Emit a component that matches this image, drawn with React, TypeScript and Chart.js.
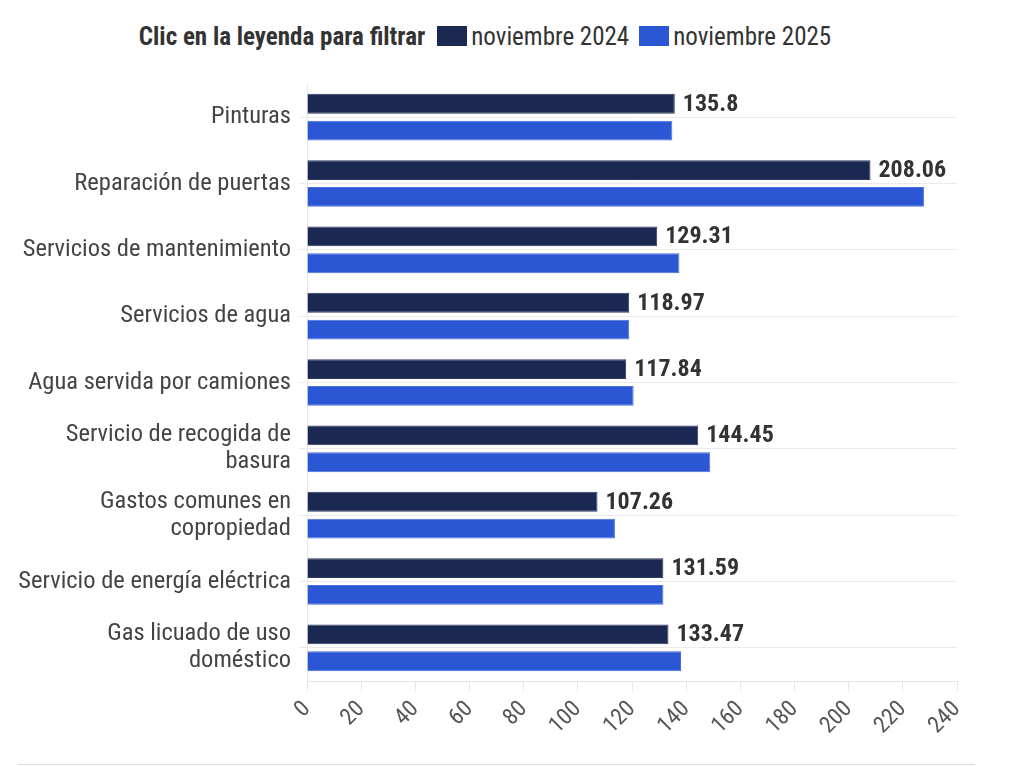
import React, { useEffect, useRef, useState } from "react";
import { Chart, registerables } from "chart.js";

Chart.register(...registerables);

const categories: (string | string[])[] = [
  "Pinturas",
  "Reparación de puertas",
  "Servicios de mantenimiento",
  "Servicios de agua",
  "Agua servida por camiones",
  ["Servicio de recogida de", "basura"],
  ["Gastos comunes en", "copropiedad"],
  "Servicio de energía eléctrica",
  ["Gas licuado de uso", "doméstico"],
];

const seriesNames = ["noviembre 2024", "noviembre 2025"];
const values2024 = [135.8, 208.06, 129.31, 118.97, 117.84, 144.45, 107.26, 131.59, 133.47];
const values2025 = [134.9, 227.8, 137.5, 119.0, 120.6, 148.9, 113.7, 131.6, 138.1];
const seriesColors = ["#1b2852", "#2b56d4"];
const xMin = 0;
const xMax = 240;
const xStep = 20;
const legendTitle = "Clic en la leyenda para filtrar";

const FONT = "'Roboto Condensed', Roboto, 'Noto Sans', sans-serif";

const valueLabelPlugin = {
  id: "valueLabels",
  afterDatasetsDraw(chart: any) {
    const ctx = chart.ctx;
    if (!chart.isDatasetVisible(0)) return;
    const meta = chart.getDatasetMeta(0);
    ctx.save();
    ctx.font = `condensed bold 24px ${FONT}`;
    ctx.fillStyle = "#333333";
    ctx.textAlign = "left";
    ctx.textBaseline = "middle";
    meta.data.forEach((el: any, i: number) => {
      const v = chart.data.datasets[0].data[i];
      ctx.fillText(String(v), el.x + 8, el.y + 1);
    });
    ctx.restore();
  },
};

export default function App() {
  const canvasRef = useRef<HTMLCanvasElement | null>(null);
  const chartRef = useRef<Chart | null>(null);
  const [hidden, setHidden] = useState<boolean[]>([false, false]);

  useEffect(() => {
    if (!canvasRef.current) return;
    const chart = new Chart(canvasRef.current, {
      type: "bar",
      data: {
        labels: categories,
        datasets: [
          {
            label: seriesNames[0],
            data: values2024,
            backgroundColor: seriesColors[0],
            borderColor: "#2e3a5e",
            borderWidth: 1,
            categoryPercentage: 0.81,
            barPercentage: 0.74,
          },
          {
            label: seriesNames[1],
            data: values2025,
            backgroundColor: seriesColors[1],
            borderColor: "#4a6fdc",
            borderWidth: 1,
            categoryPercentage: 0.81,
            barPercentage: 0.74,
          },
        ],
      },
      options: {
        indexAxis: "y",
        responsive: true,
        maintainAspectRatio: false,
        animation: false,
        layout: { padding: { left: 0, right: 67, top: 14, bottom: 0 } },
        plugins: {
          legend: { display: false },
          tooltip: { enabled: true },
        },
        scales: {
          x: {
            min: xMin,
            max: xMax,
            ticks: {
              stepSize: xStep,
              minRotation: 45,
              maxRotation: 45,
              color: "#555555",
              font: { family: FONT, size: 23, style: "normal condensed" as any },
              padding: 5,
            },
            grid: {
              drawOnChartArea: false,
              drawTicks: true,
              tickLength: 10,
              color: "#e6e6e6",
            },
            border: { display: true, color: "#e6e6e6" },
            afterFit(scale: any) {
              scale.height = 74;
              scale.paddingLeft = 0;
              scale.paddingRight = 0;
            },
          },
          y: {
            ticks: {
              color: "#444444",
              font: { family: FONT, size: 24.5, lineHeight: 1.1, style: "normal condensed" as any },
              padding: 8,
            },
            grid: {
              offset: false,
              drawTicks: true,
              tickLength: 8,
              color: "#ebebeb",
            },
            border: { display: true, color: "#e6e6e6" },
            afterFit(scale: any) {
              scale.width = 307;
              scale.paddingTop = 0;
              scale.paddingBottom = 0;
            },
          },
        },
      },
      plugins: [valueLabelPlugin],
    });
    chartRef.current = chart;
    return () => {
      chart.destroy();
      chartRef.current = null;
    };
  }, []);

  const toggle = (i: number) => {
    const chart = chartRef.current;
    if (!chart) return;
    const vis = chart.isDatasetVisible(i);
    chart.setDatasetVisibility(i, !vis);
    chart.update();
    setHidden((h) => h.map((x, k) => (k === i ? vis : x)));
  };

  return (
    <div
      style={{
        position: "fixed",
        left: 0,
        top: 0,
        width: 1024,
        height: 766,
        background: "#ffffff",
        fontFamily: FONT,
        fontStretch: "condensed",
        overflow: "hidden",
      }}
    >
      <div
        style={{
          position: "absolute",
          top: 22,
          left: 0,
          width: 970,
          display: "flex",
          justifyContent: "center",
          alignItems: "center",
          height: 28,
          color: "#333333",
          fontSize: 25,
        }}
      >
        <span style={{ fontWeight: 700, marginRight: 12 }}>{legendTitle}</span>
        {seriesNames.map((name, i) => (
          <span
            key={name}
            onClick={() => toggle(i)}
            style={{
              display: "inline-flex",
              alignItems: "center",
              cursor: "pointer",
              marginRight: i === 0 ? 10 : 0,
              opacity: hidden[i] ? 0.4 : 1,
            }}
          >
            <span
              style={{
                display: "inline-block",
                width: 30,
                height: 20,
                background: seriesColors[i],
                marginRight: 4,
              }}
            />
            <span>{name}</span>
          </span>
        ))}
      </div>
      <div style={{ position: "absolute", top: 70, left: 0, width: 1024, height: 685 }}>
        <canvas ref={canvasRef} />
      </div>
      <div
        style={{
          position: "absolute",
          top: 764,
          left: 18,
          width: 957,
          height: 1,
          background: "#dddddd",
        }}
      />
    </div>
  );
}
